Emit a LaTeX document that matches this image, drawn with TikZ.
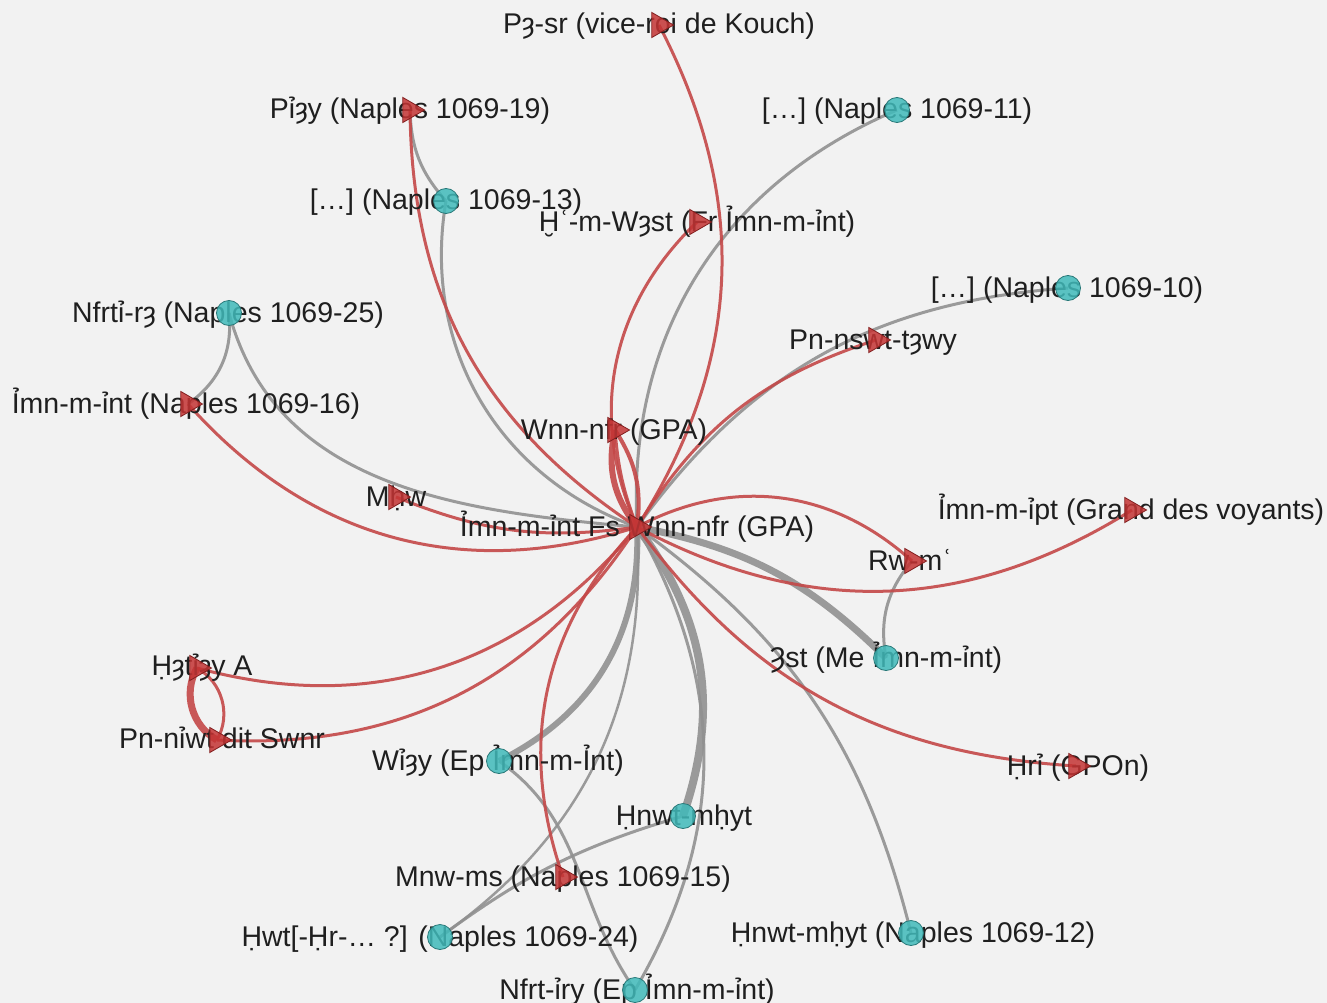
\documentclass[tikz,border=0pt]{standalone}
\usepackage{fontspec}
\setmainfont{Liberation Sans}
\usetikzlibrary{shapes.geometric,positioning}

\definecolor{bgpaper}{RGB}{242,242,242}
\definecolor{tealfill}{RGB}{64,186,186}
\definecolor{tealline}{RGB}{40,120,120}
\definecolor{redfill}{RGB}{196,52,52}
\definecolor{redline}{RGB}{130,30,30}
\definecolor{linkgray}{RGB}{145,145,145}
\definecolor{linkred}{RGB}{196,72,72}

\pgfdeclarelayer{bg}
\pgfdeclarelayer{edges}
\pgfsetlayers{bg,edges,main}

\begin{document}
\begin{tikzpicture}[
  x=1pt, y=1pt,
  font=\fontsize{28.5}{30}\selectfont,
  person/.style={circle, draw=tealline, line width=0.8pt, fill=tealfill, fill opacity=0.85, minimum size=25pt, inner sep=0pt},
  office/.style={regular polygon, regular polygon sides=3, shape border rotate=-90, draw=redline, line width=0.8pt, fill=redfill, fill opacity=0.85, minimum size=29pt, inner sep=0pt},
  lbl/.style={anchor=base, yshift=-9pt, inner sep=0pt, text=black!88},
  link/.style={draw=linkgray, draw opacity=0.9, line width=3pt},
  rel/.style={draw=linkred, draw opacity=0.9, line width=3pt}
]

\useasboundingbox (0,0) rectangle (1327,-1003);
\begin{pgfonlayer}{bg}
  \fill[bgpaper] (0,0) rectangle (1327,-1003);
\end{pgfonlayer}

% Labels (under the markers)
\node[lbl] (gpa-l) at (637,-527) {Ỉmn-m-ỉnt Fs Wnn-nfr (GPA)};
\node[lbl] (psr-l) at (659,-25) {Pȝ-sr (vice-roi de Kouch)};
\node[lbl] (piay-l) at (410,-110) {Pỉȝy (Naples 1069-19)};
\node[lbl] (n11-l) at (897,-110) {[…] (Naples 1069-11)};
\node[lbl] (n13-l) at (446,-201) {[…] (Naples 1069-13)};
\node[lbl] (khaem-l) at (697,-222) {Ḫʿ-m-Wȝst (Fr Ỉmn-m-ỉnt)};
\node[lbl] (nefertiri-l) at (228,-313) {Nfrtỉ-rȝ (Naples 1069-25)};
\node[lbl] (n10-l) at (1067,-288) {[…] (Naples 1069-10)};
\node[lbl] (pennesut-l) at (873,-340) {Pn-nswt-tȝwy};
\node[lbl] (amen16-l) at (186,-404) {Ỉmn-m-ỉnt (Naples 1069-16)};
\node[lbl] (wennefer-l) at (614,-430) {Wnn-nfr (GPA)};
\node[lbl] (mahu-l) at (396,-497) {Mḥw};
\node[lbl] (amenipet-l) at (1131,-510) {Ỉmn-m-ỉpt (Grand des voyants)};
\node[lbl] (roma-l) at (910,-561) {Rw-mʿ};
\node[lbl] (iset-l) at (886,-658) {Ȝst (Me Ỉmn-m-ỉnt)};
\node[lbl] (hatiay-l) at (202,-666) {Ḥȝtỉȝy A};
\node[lbl] (penniut-l) at (222,-739) {Pn-nỉwt dit Swnr};
\node[lbl] (wiay-l) at (498,-761) {Wỉȝy (Ep Ỉmn-m-Ỉnt)};
\node[lbl] (hori-l) at (1078,-766) {Ḥrỉ (GPOn)};
\node[lbl] (henut-l) at (684,-816) {Ḥnwt-mḥyt};
\node[lbl] (menmose-l) at (563,-877) {Mnw-ms (Naples 1069-15)};
\node[lbl] (hwt-l) at (440,-937) {Ḥwt[-Ḥr-… ?] (Naples 1069-24)};
\node[lbl] (henut12-l) at (913,-933) {Ḥnwt-mḥyt (Naples 1069-12)};
\node[lbl] (nefertiry-l) at (637,-990) {Nfrt-ỉry (Ep Ỉmn-m-ỉnt)};

% Markers: offices (triangles)
\node[office] (gpa) at (637,-527) {};
\node[office] (psr) at (659,-25) {};
\node[office] (piay) at (410,-110) {};
\node[office] (khaem) at (697,-222) {};
\node[office] (pennesut) at (876,-340) {};
\node[office] (amen16) at (188,-404) {};
\node[office] (wennefer) at (615,-430) {};
\node[office] (mahu) at (396,-497) {};
\node[office] (amenipet) at (1132,-510) {};
\node[office] (roma) at (912,-561) {};
\node[office] (hatiay) at (197,-668) {};
\node[office] (penniut) at (217,-740) {};
\node[office] (hori) at (1076,-766) {};
\node[office] (menmose) at (563,-877) {};

% Markers: persons (circles)
\node[person] (n11) at (897,-110) {};
\node[person] (n13) at (446,-201) {};
\node[person] (nefertiri) at (229,-313) {};
\node[person] (n10) at (1068,-288) {};
\node[person] (iset) at (886,-658) {};
\node[person] (wiay) at (499,-761) {};
\node[person] (henut) at (683,-816) {};
\node[person] (hwt) at (440,-937) {};
\node[person] (henut12) at (911,-933) {};
\node[person] (nefertiry) at (635,-990) {};

\begin{pgfonlayer}{edges}
% Gray links
\draw[link] (gpa.center) to[bend left=35] (n11.center);
\draw[link] (gpa.center) to[bend left=25] (n10.center);
\draw[link] (gpa.center) to[bend left=40] (n13.center);
\draw[link] (n13.center) to[bend left=20] (piay.center);
\draw[link] (nefertiri.center) to[out=-75, in=175] (gpa.center);
\draw[link] (nefertiri.center) to[bend left=30] (amen16.center);
\draw[link, line width=7pt] (gpa.center) to[bend left=17] (iset.center);
\draw[link] (iset.center) to[bend left=25] (roma.center);
\draw[link] (gpa.center) to[bend left=20] (henut12.center);
\draw[link, line width=8pt] (gpa.center) to[bend left=28] (henut.center);
\draw[link] (gpa.center) to[bend left=30] (nefertiry.center);
\draw[link, line width=6pt] (gpa.center) to[bend left=33] (wiay.center);
\draw[link, line width=2.5pt] (gpa.center) to[bend left=29] (hwt.center);
\draw[link] (wiay.center) to[out=-35, in=125] (nefertiry.center);
\draw[link] (henut.center) to[bend right=10] (hwt.center);

% Red relations
\draw[rel] (gpa.center) to[bend right=30] (psr.center);
\draw[rel] (gpa.center) to[bend left=28] (piay.center);
\draw[rel] (gpa.center) to[bend left=35] (khaem.center);
\draw[rel] (gpa.center) to[bend left=20] (pennesut.center);
\draw[rel] (gpa.center) to[bend left=33] (amen16.center);
\draw[rel] (gpa.center) to[bend left=15] (mahu.center);
\draw[rel, line width=6pt] (gpa.center) to[bend left=25] (wennefer.center);
\draw[rel] (gpa.center) to[bend left=8] (wennefer.center);
\draw[rel, line width=4pt] (gpa.center) to[bend right=20] (wennefer.center);
\draw[rel] (gpa.center) to[bend left=35] (roma.center);
\draw[rel] (gpa.center) to[bend right=30] (amenipet.center);
\draw[rel] (gpa.center) to[bend right=25] (hori.center);
\draw[rel] (gpa.center) to[bend right=31] (menmose.center);
\draw[rel] (gpa.center) to[bend left=33] (hatiay.center);
\draw[rel] (gpa.center) to[bend left=30] (penniut.center);
\draw[rel, line width=7pt] (hatiay.center) to[bend right=45] (penniut.center);
\draw[rel] (hatiay.center) to[bend left=45] (penniut.center);
\end{pgfonlayer}

\end{tikzpicture}
\end{document}
